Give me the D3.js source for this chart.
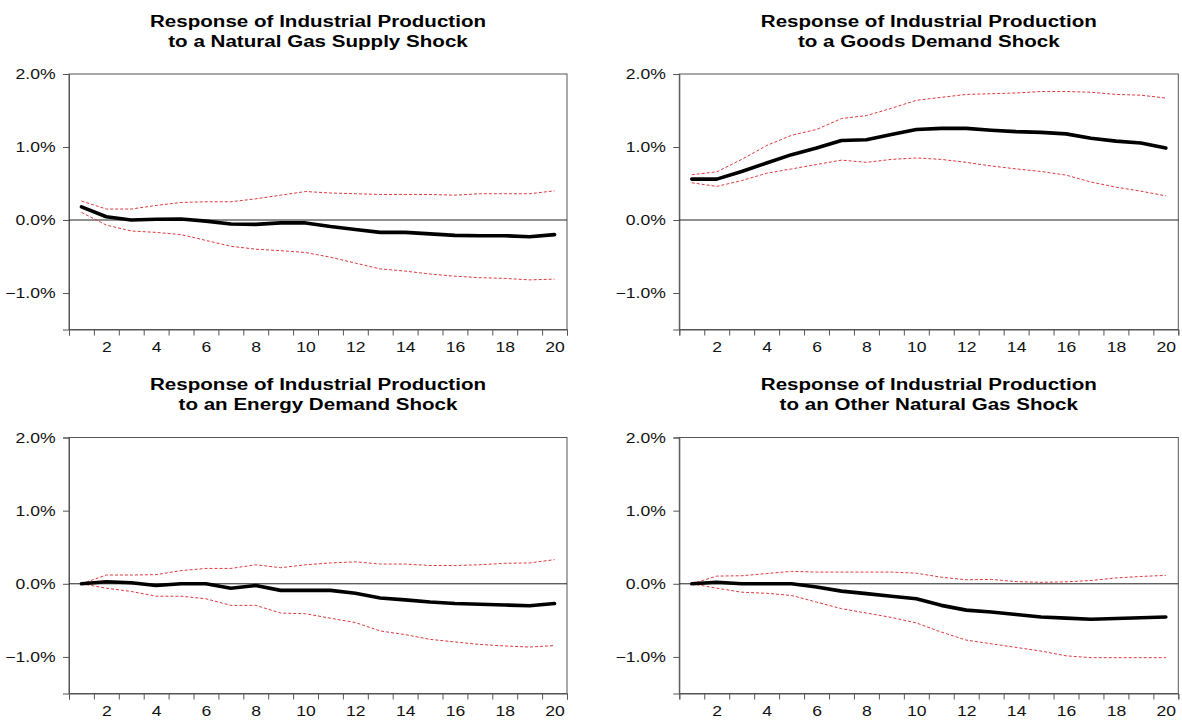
<!DOCTYPE html>
<html>
<head>
<meta charset="utf-8">
<script src="https://cdn.jsdelivr.net/npm/d3@7"></script>
<style>
body { margin: 0; background: #fff; }
svg { display: block; font-family: "Liberation Sans", Arial, sans-serif; }
</style>
</head>
<body>
<div id="chart"></div>
<script>
var width = 1182;
var height = 721;

// horizon 1..20
var periods = d3.range(1, 21);
var yTickVals = [-1, 0, 1, 2];
var xLabelVals = [2, 4, 6, 8, 10, 12, 14, 16, 18, 20];

var titlesTop = ["Response of Industrial Production", "Response of Industrial Production",
                 "Response of Industrial Production", "Response of Industrial Production"];
var titlesBottom = ["to a Natural Gas Supply Shock", "to a Goods Demand Shock",
                    "to an Energy Demand Shock", "to an Other Natural Gas Shock"];

// natural gas supply shock
var supplyResp = [0.18, 0.045, 0.0, 0.01, 0.013, -0.015, -0.055, -0.06, -0.04, -0.04,
                  -0.09, -0.13, -0.17, -0.17, -0.19, -0.21, -0.215, -0.215, -0.23, -0.2];
var supplyUp = [0.26, 0.15, 0.15, 0.2, 0.24, 0.25, 0.25, 0.29, 0.34, 0.39,
                0.37, 0.36, 0.35, 0.35, 0.35, 0.34, 0.36, 0.36, 0.36, 0.4];
var supplyLo = [0.105, -0.07, -0.15, -0.17, -0.2, -0.28, -0.36, -0.4, -0.42, -0.445,
                -0.51, -0.59, -0.67, -0.7, -0.74, -0.77, -0.79, -0.8, -0.82, -0.81];

// goods demand shock
var goodsResp = [0.56, 0.56, 0.665, 0.78, 0.895, 0.985, 1.09, 1.1, 1.17, 1.24,
                 1.255, 1.255, 1.23, 1.21, 1.2, 1.18, 1.12, 1.08, 1.055, 0.985];
var goodsUp = [0.62, 0.66, 0.83, 1.02, 1.16, 1.24, 1.39, 1.43, 1.53, 1.64,
               1.68, 1.72, 1.73, 1.74, 1.76, 1.76, 1.75, 1.72, 1.71, 1.67];
var goodsLo = [0.51, 0.46, 0.54, 0.64, 0.7, 0.76, 0.82, 0.79, 0.83, 0.85,
               0.83, 0.79, 0.74, 0.7, 0.665, 0.615, 0.52, 0.45, 0.395, 0.33];

// energy demand shock
var energyResp = [0, 0.027, 0.014, -0.023, 0, 0, -0.06, -0.023, -0.09, -0.09,
                  -0.09, -0.13, -0.195, -0.22, -0.25, -0.27, -0.28, -0.29, -0.3, -0.27];
var energyUp = [0, 0.12, 0.12, 0.125, 0.18, 0.21, 0.21, 0.26, 0.22, 0.26,
                0.285, 0.3, 0.27, 0.27, 0.25, 0.25, 0.26, 0.28, 0.285, 0.33];
var energyLo = [0, -0.06, -0.105, -0.17, -0.17, -0.205, -0.295, -0.295, -0.4, -0.41,
                -0.47, -0.53, -0.645, -0.695, -0.76, -0.795, -0.83, -0.85, -0.865, -0.845];

// other natural gas shock
var otherResp = [0, 0.02, 0, 0, 0, -0.045, -0.1, -0.135, -0.17, -0.205,
                 -0.295, -0.36, -0.385, -0.42, -0.455, -0.47, -0.485, -0.475, -0.465, -0.455];
var otherUp = [0, 0.105, 0.11, 0.14, 0.17, 0.16, 0.16, 0.16, 0.16, 0.145,
               0.09, 0.055, 0.06, 0.03, 0.02, 0.027, 0.045, 0.08, 0.1, 0.115];
var otherLo = [0, -0.06, -0.115, -0.13, -0.16, -0.25, -0.34, -0.4, -0.46, -0.535,
               -0.66, -0.77, -0.82, -0.87, -0.92, -0.985, -1.01, -1.01, -1.01, -1.01];

var series = [
  [supplyResp, supplyUp, supplyLo],
  [goodsResp, goodsUp, goodsLo],
  [energyResp, energyUp, energyLo],
  [otherResp, otherUp, otherLo]
];

// panel frames
var boxes = [
  { left: 69, right: 567, top: 74, bottom: 329.5 },
  { left: 679.3, right: 1178.3, top: 74, bottom: 329.5 },
  { left: 69, right: 567, top: 437.5, bottom: 693.5 },
  { left: 679.3, right: 1178.3, top: 437.5, bottom: 693.5 }
];

var stretch = 1.22;

var svg = d3.select("#chart")
  .append("svg")
  .attr("width", width)
  .attr("height", height);

boxes.forEach(function(b, i) {
  var g = svg.append("g");

  var xScale = d3.scaleLinear().domain([0.5, 20.5]).range([b.left, b.right]);
  var yScale = d3.scaleLinear().domain([-1.5, 2.0]).range([b.bottom, b.top]);

  // title
  var cx = (b.left + b.right) / 2;
  g.append("text")
    .attr("transform", "translate(" + cx + "," + (b.top - 47.5) + ") scale(1.24,1)")
    .attr("text-anchor", "middle")
    .attr("font-size", 16.6)
    .attr("font-weight", "bold")
    .attr("fill", "#000")
    .text(titlesTop[i]);
  g.append("text")
    .attr("transform", "translate(" + cx + "," + (b.top - 27.5) + ") scale(1.24,1)")
    .attr("text-anchor", "middle")
    .attr("font-size", 16.6)
    .attr("font-weight", "bold")
    .attr("fill", "#000")
    .text(titlesBottom[i]);

  // frame
  g.append("rect")
    .attr("x", b.left)
    .attr("y", b.top)
    .attr("width", b.right - b.left)
    .attr("height", b.bottom - b.top)
    .attr("fill", "none")
    .attr("stroke", "#555")
    .attr("stroke-width", 1);

  // y axis
  var yAxis = d3.axisLeft(yScale)
    .tickValues(yTickVals)
    .tickSize(6)
    .tickPadding(0)
    .tickFormat(function(d) { return d3.format(".1f")(d) + "%"; });
  var yg = g.append("g")
    .attr("transform", "translate(" + b.left + ",0)")
    .call(yAxis);
  yg.select(".domain").attr("stroke", "#555");
  yg.selectAll(".tick line").attr("stroke", "#555");
  yg.selectAll("text")
    .attr("font-size", 14.4)
    .attr("font-family", "Liberation Sans, Arial, sans-serif")
    .attr("fill", "#111")
    .attr("x", -13.5 / stretch)
    .attr("transform", "scale(" + stretch + ",1)");

  // x axis ticks at period boundaries
  var xAxis = d3.axisBottom(xScale)
    .tickValues(d3.range(0.5, 21, 1))
    .tickSize(6)
    .tickFormat("");
  var xg = g.append("g")
    .attr("transform", "translate(0," + b.bottom + ")")
    .call(xAxis);
  xg.select(".domain").attr("stroke", "#555");
  xg.selectAll(".tick line").attr("stroke", "#555");

  // x labels centred on periods
  var xLab = d3.axisBottom(xScale)
    .tickValues(xLabelVals)
    .tickSize(0)
    .tickPadding(12.5)
    .tickFormat(d3.format("d"));
  var xl = g.append("g")
    .attr("transform", "translate(0," + b.bottom + ")")
    .call(xLab);
  xl.select(".domain").remove();
  xl.selectAll("text")
    .attr("font-size", 14.4)
    .attr("font-family", "Liberation Sans, Arial, sans-serif")
    .attr("fill", "#111")
    .attr("transform", "scale(" + stretch + ",1)");

  // zero line
  g.append("line")
    .attr("x1", b.left)
    .attr("x2", b.right)
    .attr("y1", yScale(0))
    .attr("y2", yScale(0))
    .attr("stroke", "#222")
    .attr("stroke-width", 1);

  var line = d3.line()
    .x(function(d, k) { return xScale(periods[k]); })
    .y(function(d) { return yScale(d); });

  var s = series[i];
  [s[1], s[2]].forEach(function(band) {
    g.append("path")
      .datum(band)
      .attr("d", line)
      .attr("fill", "none")
      .attr("stroke", "#e0393e")
      .attr("stroke-width", 1)
      .attr("stroke-dasharray", "3,2");
  });

  g.append("path")
    .datum(s[0])
    .attr("d", line)
    .attr("fill", "none")
    .attr("stroke", "#000")
    .attr("stroke-width", 3.6)
    .attr("stroke-linejoin", "round")
    .attr("stroke-linecap", "round");
});
</script>
</body>
</html>
